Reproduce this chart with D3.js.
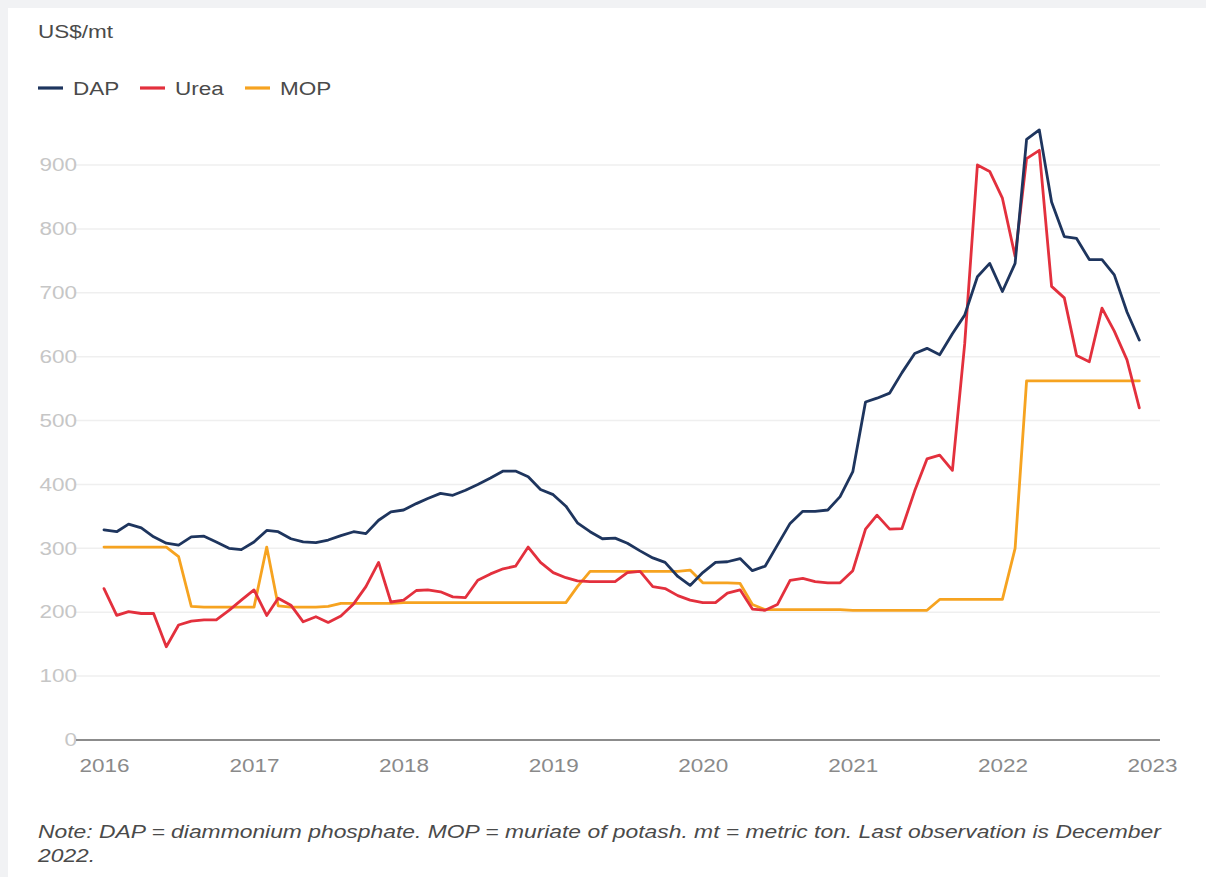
<!DOCTYPE html>
<html>
<head>
<meta charset="utf-8">
<script src="https://cdn.jsdelivr.net/npm/d3@7/dist/d3.min.js"></script>
<style>
  html, body { margin: 0; padding: 0; background: #f1f2f4; }
  svg { display: block; }
  text { font-family: "Liberation Sans", Arial, sans-serif; }
</style>
</head>
<body>
<svg id="chart" width="1206" height="877"></svg>
<script>
// ---- Data (monthly, Jan 2016 – Dec 2022) ----
const startYear = 2016;
const yTicks = [0, 100, 200, 300, 400, 500, 600, 700, 800, 900];
const xTickYears = [2016, 2017, 2018, 2019, 2020, 2021, 2022, 2023];

const dap = [
  329, 326, 338, 332, 318, 308, 305, 318, 319, 310, 300, 298,   // 2016
  310, 328, 326, 315, 310, 309, 313, 320, 326, 323, 344, 357,   // 2017
  360, 370, 378, 386, 383, 391, 400, 410, 421, 421, 412, 392,   // 2018
  384, 366, 340, 326, 315, 316, 308, 296, 285, 278, 256, 242,   // 2019
  262, 278, 279, 284, 265, 272, 305, 339, 358, 358, 360, 381,   // 2020
  420, 529, 535, 543, 575, 605, 613, 603, 636, 665, 725, 746,   // 2021
  702, 746, 940, 955, 842, 788, 785, 752, 752, 728, 670, 626    // 2022
];
const urea = [
  237, 195, 201, 198, 198, 146, 180, 186, 188, 188, 203, 219,   // 2016
  235, 195, 222, 211, 185, 193, 184, 194, 213, 240, 278, 216,   // 2017
  219, 234, 235, 232, 224, 223, 250, 260, 268, 272, 302, 278,   // 2018
  262, 254, 249, 248, 248, 248, 262, 264, 240, 237, 226, 219,   // 2019
  215, 215, 230, 235, 205, 203, 212, 250, 253, 248, 246, 246,   // 2020
  265, 330, 352, 330, 331, 390, 440, 446, 422, 620, 900, 890,   // 2021
  848, 757, 910, 923, 710, 692, 602, 592, 676, 640, 595, 520    // 2022
];
const mop = [
  302, 302, 302, 302, 302, 302, 287, 209, 208, 208, 208, 208,   // 2016
  208, 302, 210, 208, 208, 208, 209, 214, 214, 214, 214, 214,   // 2017
  215, 215, 215, 215, 215, 215, 215, 215, 215, 215, 215, 215,   // 2018
  215, 215, 240, 264, 264, 264, 264, 264, 264, 264, 264, 266,   // 2019
  246, 246, 246, 245, 212, 204, 204, 204, 204, 204, 204, 204,   // 2020
  203, 203, 203, 203, 203, 203, 203, 220, 220, 220, 220, 220,   // 2021
  220, 300, 562, 562, 562, 562, 562, 562, 562, 562, 562, 562    // 2022
];
const seriesNames = ["DAP", "Urea", "MOP"];
const seriesColors = ["#1e355e", "#e3303d", "#f6a320"];

const yLabel = "US$/mt";
const noteLine1 = "Note: DAP = diammonium phosphate. MOP = muriate of potash. mt = metric ton. Last observation is December";
const noteLine2 = "2022.";

// ---- Build ----
const SX = 1.25; // horizontal text stretch of the reference
const FONT = "'Liberation Sans', Arial, sans-serif";
const months = d3.range(dap.length).map(i => new Date(startYear, i, 1));
const series = [dap, urea, mop].map((vals, k) => ({
  name: seriesNames[k], color: seriesColors[k],
  values: vals.map((v, i) => ({ date: months[i], value: v }))
}));

const svg = d3.select("#chart");
svg.append("rect").attr("x", 8).attr("y", 8).attr("width", 1206).attr("height", 877).attr("fill", "#ffffff");

const x = d3.scaleTime()
  .domain([new Date(2016, 0, 1), new Date(2023, 0, 1)])
  .range([104, 1152]);
const y = d3.scaleLinear().domain([0, 900]).range([740, 165]);

const gridLeft = 76, gridRight = 1160;

// gridlines
svg.append("g").selectAll("line")
  .data(yTicks.filter(t => t > 0))
  .join("line")
  .attr("x1", gridLeft).attr("x2", gridRight)
  .attr("y1", d => y(d)).attr("y2", d => y(d))
  .attr("stroke", "#efefef").attr("stroke-width", 1.5);

// y-axis labels
const yAxis = d3.axisLeft(y).tickValues(yTicks).tickSize(0).tickPadding(0);
const gy = svg.append("g").attr("transform", "translate(77,0)").call(yAxis);
gy.select(".domain").remove();
gy.selectAll("text")
  .attr("fill", "#c6c6c6").style("font-size", "18px").style("font-family", FONT)
  .attr("transform", `scale(${SX},1)`);

// x-axis
const xAxis = d3.axisBottom(x)
  .tickValues(xTickYears.map(yr => new Date(yr, 0, 1)))
  .tickFormat(d3.timeFormat("%Y"))
  .tickSize(0).tickPadding(19);
const gx = svg.append("g").attr("transform", "translate(0,740)").call(xAxis);
gx.select(".domain").remove();
gx.selectAll("text")
  .attr("fill", "#8a8a8a").style("font-size", "18px").style("font-family", FONT)
  .attr("transform", `scale(${SX},1)`);

// baseline
svg.append("line")
  .attr("x1", gridLeft).attr("x2", gridRight)
  .attr("y1", y(0)).attr("y2", y(0))
  .attr("stroke", "#8c8c8c").attr("stroke-width", 2);

// lines
const line = d3.line().x(d => x(d.date)).y(d => y(d.value));
svg.append("g").selectAll("path")
  .data([series[2], series[1], series[0]])
  .join("path")
  .attr("d", d => line(d.values))
  .attr("fill", "none")
  .attr("stroke", d => d.color)
  .attr("stroke-width", 2.8)
  .attr("stroke-linejoin", "round")
  .attr("stroke-linecap", "round");

function stretchedText(px, py, str, size, color, italic, sx) {
  const t = svg.append("g").attr("transform", `translate(${px},${py}) scale(${sx || SX},1)`)
    .append("text").attr("x", 0).attr("y", 0)
    .attr("fill", color).style("font-size", size + "px").text(str);
  if (italic) t.style("font-style", "italic");
  return t;
}

// unit label
stretchedText(38, 38, yLabel, 18, "#4a4a4a");

// legend
const legendX = [38, 140, 245];
series.forEach((s, i) => {
  svg.append("line")
    .attr("x1", legendX[i]).attr("x2", legendX[i] + 25)
    .attr("y1", 88).attr("y2", 88)
    .attr("stroke", s.color).attr("stroke-width", 3.2);
  stretchedText(legendX[i] + 35, 94.5, s.name, 18, "#4a4a4a");
});

// note
stretchedText(38, 838, noteLine1, 18, "#4a4a4a", true, 1.27);
stretchedText(38, 862, noteLine2, 18, "#4a4a4a", true, 1.27);
</script>
</body>
</html>
